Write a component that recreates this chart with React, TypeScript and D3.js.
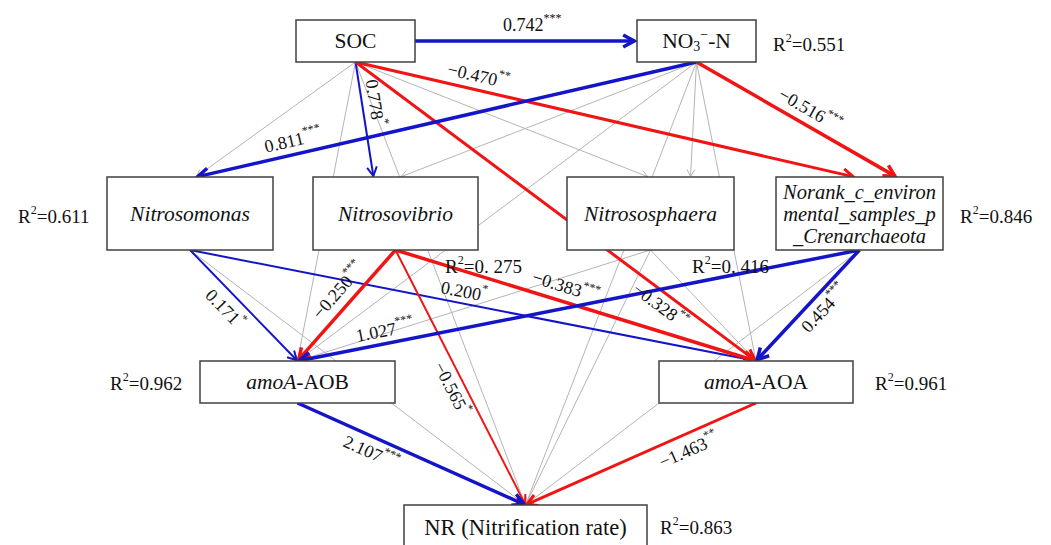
import React, { useEffect, useRef } from 'react';
import * as d3 from 'd3';

// ---- model data ----
const nodeIds = ['SOC', 'NO3', 'Nsm', 'Nsv', 'Nsp', 'Nor', 'AOB', 'AOA', 'NR'];
const r2Values: Record<string, string> = {
  NO3: '0.551', Nsm: '0.611', Nsv: '0. 275', Nsp: '0. 416',
  Nor: '0.846', AOB: '0.962', AOA: '0.961', NR: '0.863',
};
// [from, to, coefficient (null = n.s.), significance]
const paths: [string, string, number | null, string][] = [
  ['SOC', 'NO3', 0.742, '***'],
  ['SOC', 'Nsm', null, ''],
  ['SOC', 'Nsv', 0.778, '*'],
  ['SOC', 'Nsp', null, ''],
  ['SOC', 'Nor', -0.470, '**'],
  ['SOC', 'AOB', null, ''],
  ['SOC', 'AOA', -0.328, '**'],
  ['SOC', 'NR', null, ''],
  ['NO3', 'Nsm', 0.811, '***'],
  ['NO3', 'Nsv', null, ''],
  ['NO3', 'Nsp', null, ''],
  ['NO3', 'Nor', -0.516, '***'],
  ['NO3', 'AOB', null, ''],
  ['NO3', 'AOA', null, ''],
  ['NO3', 'NR', null, ''],
  ['Nsm', 'AOB', 0.171, '*'],
  ['Nsm', 'AOA', 0.200, '*'],
  ['Nsm', 'NR', null, ''],
  ['Nsv', 'AOB', -0.250, '***'],
  ['Nsv', 'AOA', -0.383, '***'],
  ['Nsv', 'NR', -0.565, '*'],
  ['Nsp', 'AOB', null, ''],
  ['Nsp', 'AOA', null, ''],
  ['Nsp', 'NR', null, ''],
  ['Nor', 'AOB', 1.027, '***'],
  ['Nor', 'AOA', 0.454, '***'],
  ['Nor', 'NR', null, ''],
  ['AOB', 'NR', 2.107, '***'],
  ['AOA', 'NR', -1.463, '**'],
];

// ---- layout ----
const boxes: Record<string, { x: number; y: number; w: number; h: number }> = {
  SOC: { x: 296, y: 20, w: 119, h: 42 },
  NO3: { x: 637, y: 20, w: 119, h: 42 },
  Nsm: { x: 107, y: 177, w: 166, h: 73 },
  Nsv: { x: 313, y: 177, w: 165, h: 73 },
  Nsp: { x: 567, y: 177, w: 167, h: 73 },
  Nor: { x: 776, y: 177, w: 167, h: 73 },
  AOB: { x: 200, y: 361, w: 195, h: 42 },
  AOA: { x: 659, y: 361, w: 194, h: 42 },
  NR: { x: 404, y: 505, w: 243, h: 50 },
};
const r2Pos: Record<string, [number, number]> = {
  NO3: [773, 44], Nsm: [18, 216], Nsv: [445, 266], Nsp: [692, 266],
  Nor: [960, 216], AOB: [110, 383], AOA: [875, 383], NR: [660, 527],
};
// where arrows land on the top of a box, relative to its centre
const inOffset: Record<string, number> = {
  'SOC>Nsm': 6, 'NO3>Nsm': 6, 'SOC>Nsv': -22, 'NO3>Nsv': 5,
  'SOC>Nsp': -2, 'NO3>Nsp': 40, 'SOC>Nor': -5, 'NO3>Nor': 37,
};
// coefficient label: [position along path, offset across it]
const labelPos: Record<string, [number, number]> = {
  'SOC>NO3': [0.53, -16], 'SOC>Nsv': [0.37, -13], 'SOC>Nor': [0.24, -14],
  'SOC>AOA': [0.78, 13], 'NO3>Nsm': [0.8, -14], 'NO3>Nor': [0.53, -15],
  'Nsm>AOB': [0.43, 16], 'Nsm>AOA': [0.48, -12], 'Nsv>AOB': [0.46, -16],
  'Nsv>AOA': [0.46, -15], 'Nsv>NR': [0.52, 13], 'Nor>AOB': [0.84, -13],
  'Nor>AOA': [0.44, 14], 'AOB>NR': [0.35, 15], 'AOA>NR': [0.32, 16],
};

const BLUE = '#1414c8';
const RED = '#f01414';
const GREY = '#b4b4b4';
const FONT = '"Liberation Serif", "Times New Roman", serif';

const App: React.FC = () => {
  const ref = useRef<SVGSVGElement>(null);

  useEffect(() => {
    const svg = d3.select(ref.current);
    svg.selectAll('*').remove();
    const fmt = d3.format('.3f');

    const ends = (f: string, t: string): [number, number][] => {
      const a = boxes[f], b = boxes[t];
      if (f === 'SOC' && t === 'NO3') return [[a.x + a.w, a.y + a.h / 2], [b.x - 1, b.y + b.h / 2]];
      const off = inOffset[`${f}>${t}`] ?? 0;
      return [[a.x + a.w / 2, a.y + a.h], [b.x + b.w / 2 + off, b.y]];
    };

    const edges = paths.map(([f, t, c, s]) => {
      const [S, E] = ends(f, t);
      const color = c === null ? GREY : c > 0 ? BLUE : RED;
      const width = c === null ? 1 : s === '***' ? 3.5 : s === '**' ? 3 : 2;
      return { key: `${f}>${t}`, S, E, c, s, color, width };
    });
    // grey paths underneath the significant ones
    edges.sort((a, b) => (a.c === null ? 0 : 1) - (b.c === null ? 0 : 1));

    const gE = svg.append('g').attr('fill', 'none').attr('stroke-linecap', 'butt');
    edges.forEach(e => {
      const ang = Math.atan2(e.E[1] - e.S[1], e.E[0] - e.S[0]);
      const L = e.c === null ? 8 : 7 + e.width * 1.6;
      const th = 0.5;
      const tip: [number, number] = [e.E[0] - Math.cos(ang) * e.width * 0.5, e.E[1] - Math.sin(ang) * e.width * 0.5];
      gE.append('path')
        .attr('d', d3.line()([e.S as [number, number], tip]))
        .attr('stroke', e.color).attr('stroke-width', e.width);
      const p1: [number, number] = [tip[0] - L * Math.cos(ang - th), tip[1] - L * Math.sin(ang - th)];
      const p2: [number, number] = [tip[0] - L * Math.cos(ang + th), tip[1] - L * Math.sin(ang + th)];
      gE.append('path')
        .attr('d', d3.line()([p1, tip, p2]))
        .attr('stroke', e.color).attr('stroke-width', e.width)
        .attr('stroke-linejoin', 'miter');
    });

    // boxes
    const gB = svg.append('g');
    nodeIds.forEach(id => {
      const b = boxes[id];
      gB.append('rect')
        .attr('x', b.x).attr('y', b.y).attr('width', b.w).attr('height', b.h)
        .attr('fill', '#fff').attr('stroke', '#404040').attr('stroke-width', 1.5);
    });

    const txt = (x: number, y: number, size: number) =>
      svg.append('text').attr('x', x).attr('y', y)
        .attr('font-family', FONT).attr('font-size', size).attr('fill', '#111')
        .attr('text-anchor', 'middle').attr('dominant-baseline', 'central');

    const cx = (id: string) => boxes[id].x + boxes[id].w / 2;
    const cy = (id: string) => boxes[id].y + boxes[id].h / 2;

    txt(cx('SOC'), cy('SOC'), 21.5).text('SOC');
    const no3 = txt(cx('NO3'), cy('NO3'), 21.5);
    no3.append('tspan').text('NO');
    no3.append('tspan').attr('font-size', 14).attr('dy', 5).text('3');
    no3.append('tspan').attr('font-size', 14).attr('dy', -12).text('−');
    no3.append('tspan').attr('dy', 7).text('-N');
    txt(cx('Nsm'), cy('Nsm'), 21.5).attr('font-style', 'italic').text('Nitrosomonas');
    txt(cx('Nsv'), cy('Nsv'), 21.5).attr('font-style', 'italic').text('Nitrosovibrio');
    txt(cx('Nsp'), cy('Nsp'), 21.5).attr('font-style', 'italic').text('Nitrososphaera');
    ['Norank_c_environ', 'mental_samples_p', '_Crenarchaeota'].forEach((line, i) =>
      txt(cx('Nor'), cy('Nor') + (i - 1) * 22, 20.5).attr('font-style', 'italic').text(line));
    ['AOB', 'AOA'].forEach(id => {
      const t = txt(cx(id), cy(id), 21.5);
      t.append('tspan').attr('font-style', 'italic').text('amoA');
      t.append('tspan').text(`-${id}`);
    });
    txt(cx('NR'), boxes.NR.y + 22, 22.5).text('NR (Nitrification rate)');

    // R² labels
    Object.entries(r2Values).forEach(([id, v]) => {
      const [x, y] = r2Pos[id];
      const t = txt(x, y, 19).attr('text-anchor', 'start');
      t.append('tspan').text('R');
      t.append('tspan').attr('font-size', 12).attr('dy', -6).text('2');
      t.append('tspan').attr('dy', 6).text(`=${v}`);
    });

    // path coefficients
    edges.filter(e => e.c !== null).forEach(e => {
      const [tt, off] = labelPos[e.key];
      const dx = e.E[0] - e.S[0], dy = e.E[1] - e.S[1];
      let a = (Math.atan2(dy, dx) * 180) / Math.PI;
      if (a > 90) a -= 180;
      if (a < -90) a += 180;
      const px = e.S[0] + tt * dx, py = e.S[1] + tt * dy;
      const t = svg.append('text')
        .attr('transform', `translate(${px},${py}) rotate(${a}) translate(0,${off})`)
        .attr('font-family', FONT).attr('font-size', 18).attr('fill', '#111')
        .attr('text-anchor', 'middle').attr('dominant-baseline', 'central');
      t.append('tspan').text(fmt(e.c as number));
      t.append('tspan').attr('font-size', 12).attr('dy', -7).text(e.s);
    });
  }, []);

  return (
    <svg
      ref={ref}
      width={1051}
      height={545}
      style={{ position: 'absolute', left: 0, top: 0, background: '#fff' }}
    />
  );
};

export default App;
